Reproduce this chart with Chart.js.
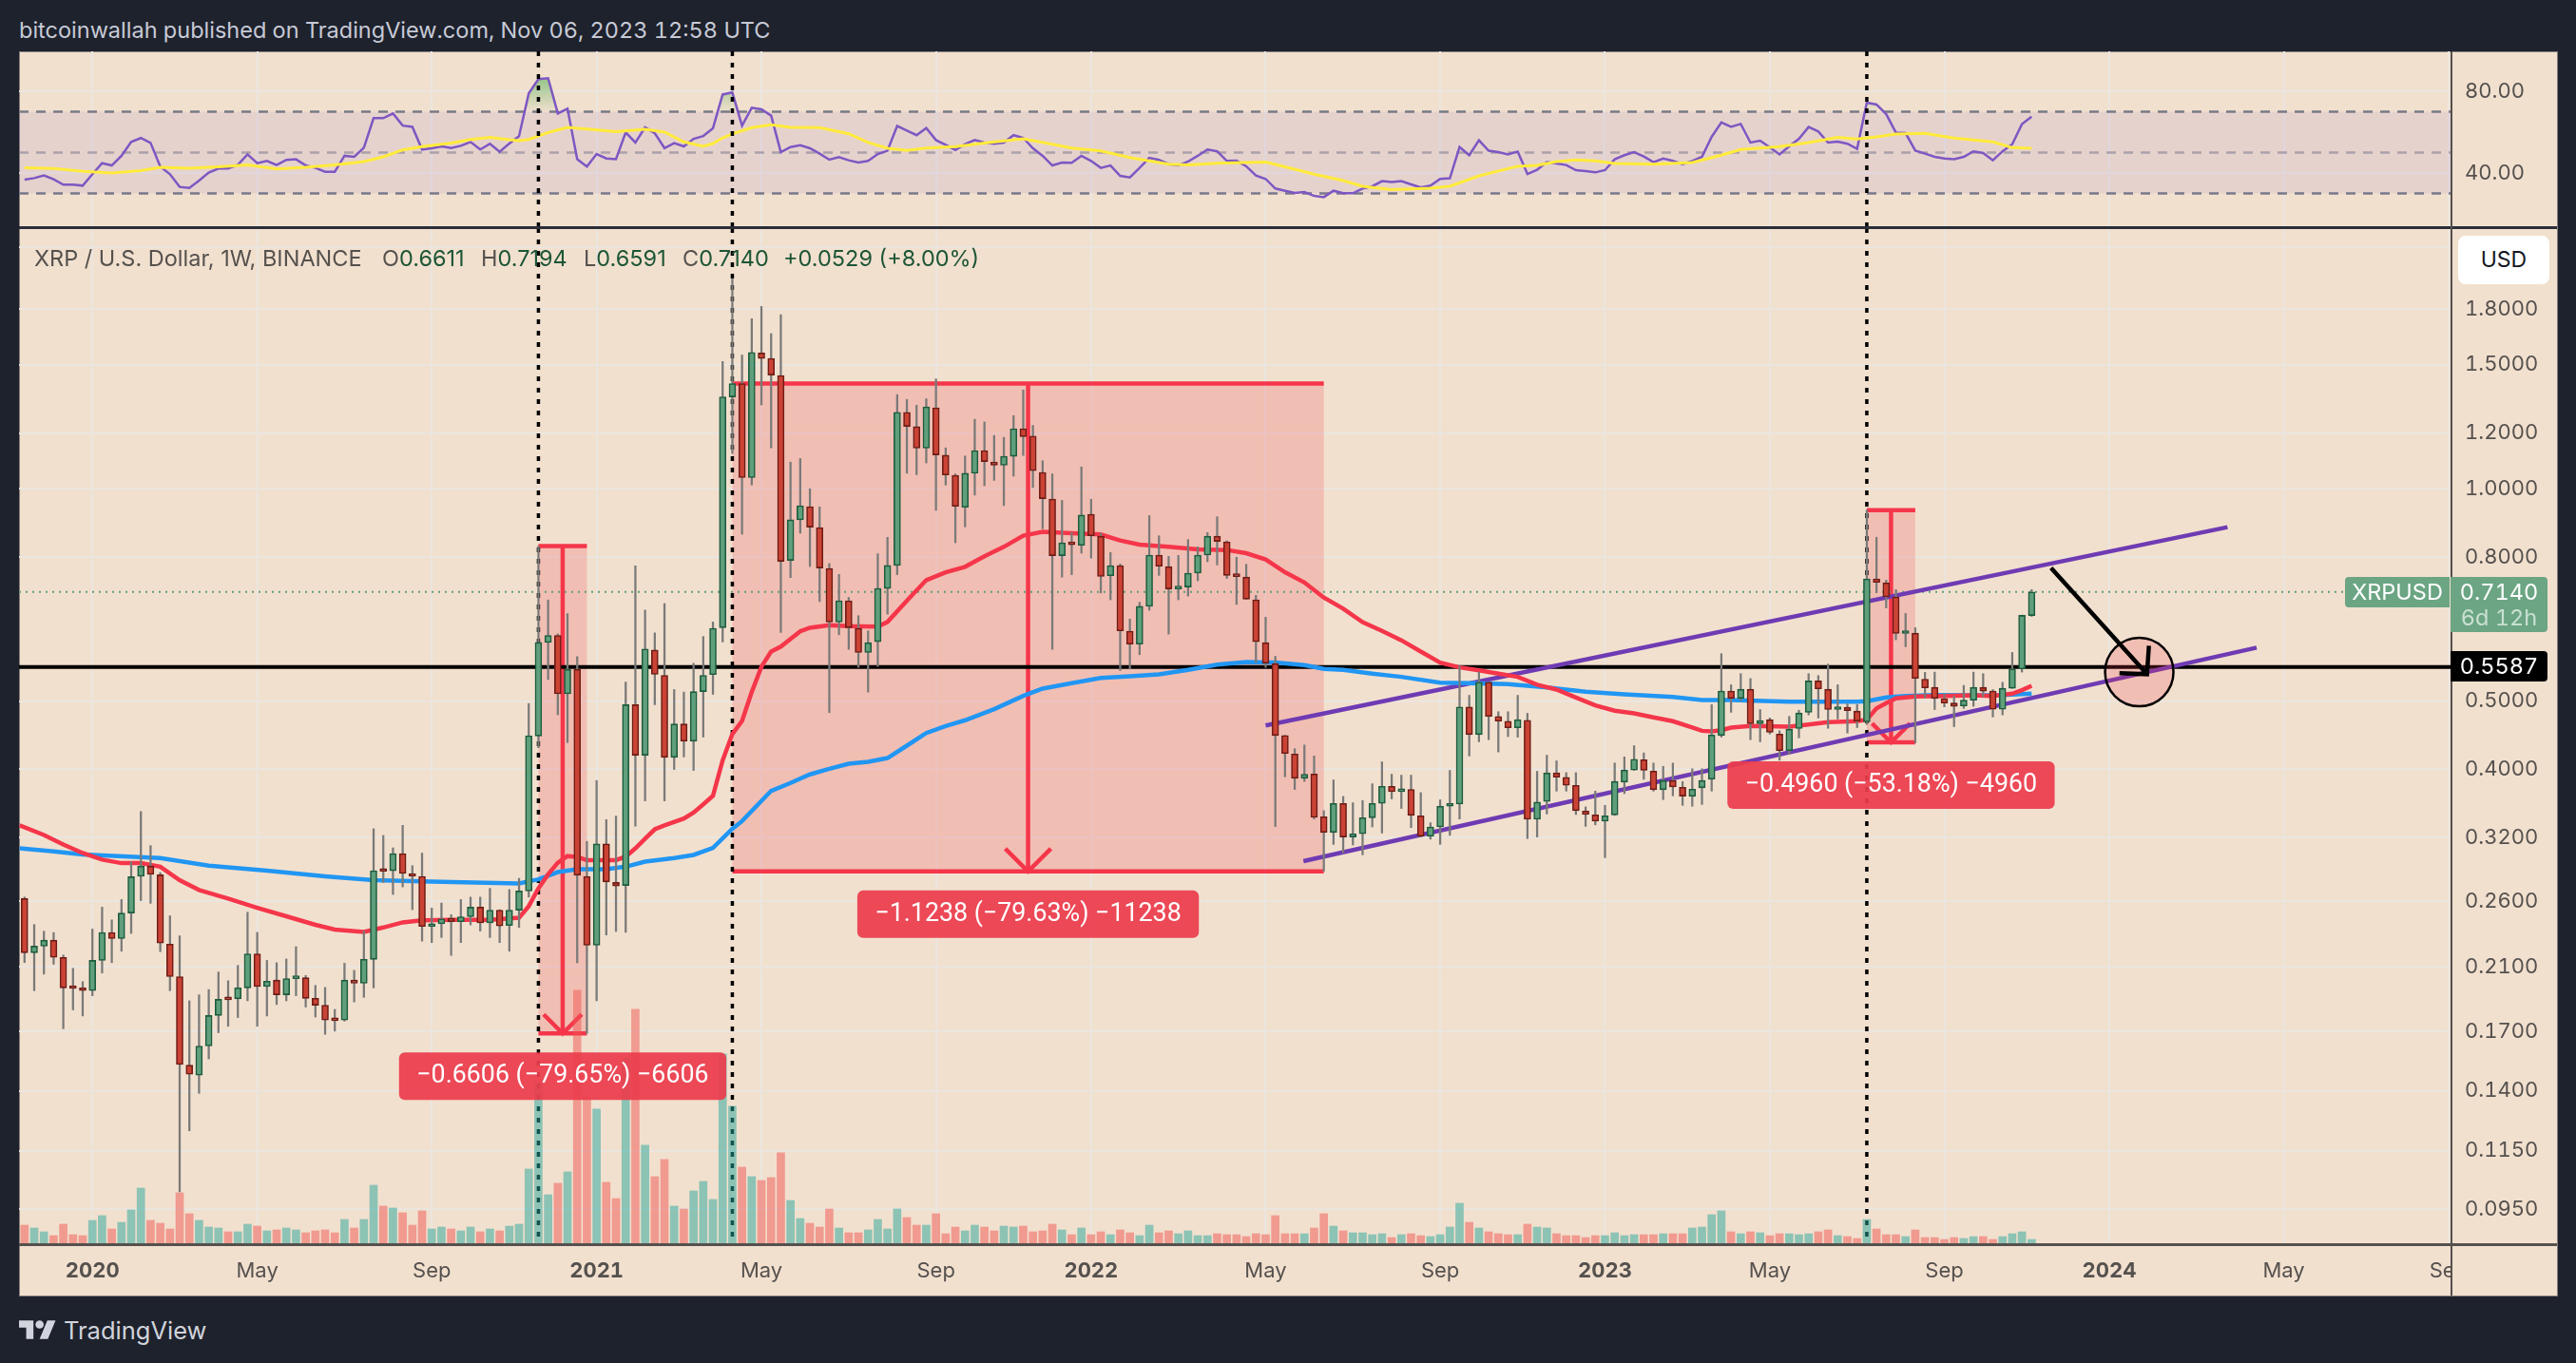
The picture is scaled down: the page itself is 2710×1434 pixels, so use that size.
<!DOCTYPE html>
<html>
<head>
<meta charset="utf-8">
<title>XRP / U.S. Dollar</title>
<script src="https://cdn.jsdelivr.net/npm/chart.js@4"></script>
<style>
    html, body { margin: 0; padding: 0; background: #1e222d; }
    body { position: relative; width: 2710px; height: 1434px; overflow: hidden; font-family: Inter, Roboto, sans-serif; font-variant-numeric: tabular-nums; }
    .abs { position: absolute; white-space: nowrap; }
    canvas { position: absolute; }
    #panel { left: 20px; top: 54px; width: 2669px; height: 1308px; background: #f2e0cf; border: 1px solid #85807c; }
    .legend { top: 257px; line-height: 30px; font-size: 23.5px; color: #55514d; font-variant-numeric: normal; }
    .legend b { font-weight: 400; color: #1d5636; }
    .tag { color: #fff; text-align: center; font-size: 25px; }
</style>
</head>
<body>
<div id="panel" class="abs"></div>
<div class="abs" style="left:20px;top:17px;line-height:30px;font-size:23.5px;color:#c7cad6;">bitcoinwallah published on TradingView.com, Nov 06, 2023 12:58 UTC</div>

<canvas id="rsiChart" width="2670" height="185" style="left:20px;top:54px;"></canvas>
<canvas id="priceChart" width="2670" height="1123" style="left:20px;top:240px;"></canvas>

<!-- pane separators and the corner below the price axis -->
<div class="abs" style="left:2580px;top:1311px;width:109px;height:51px;background:#f2e0cf;"></div>
<div class="abs" style="left:20px;top:238px;width:2670px;height:3px;background:#2a2e39;"></div>
<div class="abs" style="left:20px;top:1308px;width:2670px;height:3px;background:#55514e;"></div>
<div class="abs" style="left:2578px;top:54px;width:2px;height:1309px;background:#55514e;"></div>

<div class="abs legend" style="left:36px;">XRP / U.S. Dollar, 1W, BINANCE</div>
<div class="abs legend" style="left:402px;">O<b>0.6611</b></div>
<div class="abs legend" style="left:506px;">H<b>0.7194</b></div>
<div class="abs legend" style="left:614px;">L<b>0.6591</b></div>
<div class="abs legend" style="left:718px;">C<b>0.7140</b></div>
<div class="abs legend" style="left:824px;"><b>+0.0529 (+8.00%)</b></div>

<div class="abs" style="left:2586px;top:248px;width:96px;height:51px;line-height:51px;background:#fff;border-radius:8px;text-align:center;font-size:23px;color:#131722;">USD</div>
<div class="abs tag" style="left:2467px;top:607px;width:110px;height:32px;line-height:32px;background:#6ba583;border-radius:4px 0 0 4px;font-size:23.5px;">XRPUSD</div>
<div class="abs tag" style="left:2578px;top:607px;width:102px;height:58px;padding-top:2px;box-sizing:border-box;background:#6ba583;border-radius:0 4px 4px 0;font-size:23.5px;line-height:27px;">0.7140<br><span style="color:#c9e0d2;">6d 12h</span></div>
<div class="abs tag" style="left:2578px;top:685px;width:102px;height:32px;line-height:32px;background:#000;border-radius:0 4px 4px 0;font-size:23.5px;">0.5587</div>

<svg class="abs" style="left:20px;top:1388px;" width="39" height="24" viewBox="0 4 36 20"><path fill="#d1d4dc" d="M14 22H7V11H0V4h14v18zM28 22h-8l7.5-18h8L28 22z"/><circle cx="20" cy="8" r="4" fill="#d1d4dc"/></svg>
<div class="abs" style="left:67px;top:1383px;line-height:34px;font-size:25.5px;color:#d1d4dc;">TradingView</div>

<script>
// Weekly XRP candles. Last bar is the week of Nov 06 2023.
const opens = [
    .2622, .2197, .2245, .2289, .2164, .1962, .1959, .1941, .2143, .2348,
    .2301, .2501, .2820, .2916, .2834, .2260, .2032, .1522, .1473, .1620,
    .1790, .1890, .1890, .1959, .2189, .1967, .2009, .1915, .2019, .2025,
    .1893, .1851, .1766, .1763, .2009, .1989, .2150, .2876, .2872, .3037,
    .2838, .2820, .2394, .2414, .2459, .2431, .2471, .2550, .2422, .2525,
    .2402, .2525, .2688, .4459, .6054, .6193, .5119, .5545, .2820, .2252,
    .3135, .2764, .2737, .4940, .4188, .5905, .5436, .4159, .4639, .4384,
    .5156, .5450, .6353, 1.350, 1.410, 1.037, 1.558, 1.531, 1.448, .7913,
    .9036, .9435, .8811, .7710, .6471, .6937, .6339, .5859, .6070, .7222,
    .7784, 1.284, 1.225, 1.142, 1.303, 1.116, 1.045, .9415, 1.052, 1.133,
    1.091, 1.080, 1.112, 1.217, 1.188, 1.055, .9672, .8037, .8369, .8315,
    .9204, .8564, .7529, .7781, .6280, .6020, .6811, .8052, .7755, .7210,
    .7255, .7591, .8052, .8564, .8410, .7529, .7494, .6959, .6050, .5650,
    .4467, .4206, .3884, .3940, .3426, .3254, .3578, .3207, .3240, .3415,
    .3578, .3783, .3718, .3745, .3436, .3214, .3314, .3545, .3571, .4904,
    .4481, .5316, .4754, .4681, .4580, .4695, .3398, .3601, .3953, .3897,
    .3796, .3490, .3447, .3377, .3447, .3836, .3990, .4128, .3977, .3742,
    .3856, .3772, .3662, .3765, .3872, .4467, .5165, .5042, .5195, .4642,
    .4704, .4489, .4251, .4570, .4818, .5339, .5195, .4862, .4898, .4837,
    .4670, .7451, .7356, .7024, .6234, .6240, .5370, .5228, .5038, .4966,
    .4920, .5013, .5228, .5165, .4867, .5212, .5552, .6611
];
const highs = [
    .2636, .2409, .2357, .2347, .2181, .2088, .1999, .2374, .2550, .2446,
    .2614, .2958, .3485, .3118, .2855, .2479, .2321, .1878, .1915, .1948,
    .2063, .2005, .2108, .2508, .2348, .2143, .2127, .2153, .2241, .2040,
    .1975, .1962, .1826, .2123, .2074, .2358, .3294, .3223, .3095, .3331,
    .2920, .3042, .2542, .2584, .2488, .2614, .2635, .2635, .2711, .2529,
    .2701, .2802, .4958, .8294, .6955, .6224, .6652, .5780, .3161, .3856,
    .3394, .3433, .5321, .7775, .6729, .6246, .6874, .5190, .5148, .5656,
    .6172, .6473, 1.516, 1.987, 1.548, 1.743, 1.814, 1.660, 1.766, 1.091,
    1.104, 1.000, .9426, .7834, .7560, .7012, .6607, .6288, .8088, .8535,
    1.360, 1.339, 1.314, 1.342, 1.432, 1.143, 1.050, 1.113, 1.255, 1.244,
    1.190, 1.183, 1.270, 1.381, 1.230, 1.096, 1.050, .9628, .8668, 1.074,
    .9665, .8649, .8121, .7823, .6534, .6903, .9160, .8578, .8020, .8044,
    .8473, .8272, .8668, .9127, .8437, .7994, .7815, .7061, .6574, .5787,
    .4471, .4278, .4331, .4178, .3495, .3864, .3661, .3586, .3612, .3816,
    .4099, .3937, .3924, .3924, .3707, .3359, .3620, .3986, .5610, .5094,
    .5495, .5326, .4828, .4828, .5094, .4803, .3974, .4189, .4112, .3957,
    .3957, .3538, .3725, .3556, .4083, .4166, .4321, .4220, .4083, .4039,
    .4083, .3844, .4007, .4007, .4940, .5836, .5272, .5467, .5381, .4862,
    .4730, .4536, .4754, .4852, .5467, .5433, .5640, .5272, .4955, .4944,
    .9327, .8535, .7421, .7194, .6656, .6353, .5490, .5495, .5121, .5084,
    .5261, .5495, .5467, .5190, .5316, .5859, .6620, .7194
];
const lows = [
    .2128, .1941, .2049, .2116, .1714, .1823, .1787, .1909, .2056, .2127,
    .2208, .2340, .2605, .2582, .2205, .1941, .1006, .1228, .1388, .1553,
    .1692, .1728, .1778, .1878, .1728, .1787, .1855, .1878, .1909, .1840,
    .1781, .1683, .1701, .1757, .1871, .1899, .1959, .2764, .2658, .2724,
    .2529, .2282, .2271, .2309, .2178, .2271, .2406, .2358, .2309, .2271,
    .2208, .2386, .2635, .4292, .5363, .4780, .4364, .2127, .1688, .1878,
    .2328, .2355, .2348, .3322, .3608, .4940, .3608, .3998, .4165, .3985,
    .4443, .5110, .6064, 1.122, .8622, 1.0125, 1.315, 1.143, .6254, .7483,
    .8649, .7757, .6917, .4814, .6208, .5919, .5580, .5148, .5598, .6641,
    .7553, 1.052, 1.047, 1.088, .9320, 1.0125, .8384, .8830, .9795, 1.010,
    1.028, .9465, 1.042, 1.115, 1.004, .8776, .5919, .7494, .7553, .8103,
    .7974, .7115, .6959, .5525, .5552, .5817, .6725, .7536, .6221, .6959,
    .7043, .7405, .7880, .7798, .7461, .6855, .6974, .5668, .5580, .3318,
    .3903, .3745, .3844, .3401, .2867, .3130, .3044, .3124, .3025, .3314,
    .3248, .3631, .3520, .3307, .3207, .3184, .3130, .3224, .3401, .4178,
    .4376, .4407, .4233, .4451, .4443, .3190, .3207, .3457, .3725, .3725,
    .3451, .3320, .3336, .2997, .3441, .3695, .3986, .3872, .3725, .3623,
    .3668, .3556, .3545, .3566, .3725, .4443, .4818, .5006, .4407, .4376,
    .4489, .4121, .4199, .4433, .4778, .4730, .4574, .4715, .4503, .4584,
    .4631, .7120, .6776, .6107, .5970, .4362, .5047, .4862, .4904, .4598,
    .4880, .4914, .5068, .4745, .4778, .5208, .5495, .6591
];
const closes = [
    .2197, .2245, .2289, .2164, .1959, .1955, .1941, .2143, .2348, .2301,
    .2501, .2816, .2916, .2838, .2267, .2032, .1525, .1477, .1620, .1790,
    .1887, .1884, .1959, .2189, .1967, .2002, .1915, .2019, .2025, .1893,
    .1851, .1763, .1760, .2009, .1989, .2150, .2872, .2866, .3037, .2847,
    .2820, .2394, .2410, .2454, .2431, .2471, .2550, .2422, .2525, .2398,
    .2525, .2688, .4465, .6054, .6193, .5119, .5545, .2830, .2252, .3135,
    .2769, .2733, .4940, .4188, .5925, .5455, .4159, .4639, .4384, .5156,
    .5436, .6339, 1.350, 1.410, 1.037, 1.561, 1.531, 1.450, .7889, .9036,
    .9465, .8822, .7719, .6471, .6937, .6353, .5859, .6050, .7222, .7784,
    1.284, 1.226, 1.142, 1.307, 1.117, 1.046, .9444, 1.052, 1.133, 1.093,
    1.080, 1.112, 1.217, 1.186, 1.061, .9684, .8037, .8384, .8330, .9176,
    .8575, .7511, .7781, .6288, .6020, .6811, .8052, .7766, .7210, .7232,
    .7591, .8052, .8564, .8421, .7536, .7508, .6974, .6067, .5656, .4467,
    .4212, .3884, .3936, .3419, .3254, .3578, .3207, .3240, .3415, .3578,
    .3783, .3718, .3745, .3441, .3214, .3314, .3545, .3571, .4904, .4481,
    .5316, .4754, .4681, .4580, .4704, .3398, .3594, .3953, .3897, .3796,
    .3495, .3451, .3377, .3436, .3844, .3990, .4134, .3986, .3742, .3856,
    .3776, .3665, .3749, .3856, .4475, .5165, .5042, .5195, .4642, .4690,
    .4513, .4251, .4560, .4807, .5339, .5202, .4862, .4888, .4843, .4681,
    .7451, .7366, .7024, .6234, .6247, .5381, .5218, .5042, .4966, .4914,
    .5013, .5228, .5165, .4867, .5212, .5552, .6613, .7140
];
const volumes = [
    19, 16, 12, 8, 20, 9, 8, 24, 29, 15,
    22, 35, 58, 24, 21, 15, 53, 31, 24, 17,
    16, 12, 12, 20, 18, 13, 14, 16, 14, 11,
    13, 14, 11, 25, 16, 25, 61, 39, 37, 32,
    19, 34, 15, 17, 15, 13, 17, 12, 15, 13,
    18, 20, 78, 169, 51, 63, 75, 266, 154, 141,
    64, 47, 195, 246, 103, 70, 88, 39, 36, 55,
    65, 46, 199, 144, 80, 70, 66, 69, 95, 45,
    26, 21, 17, 36, 16, 11, 11, 14, 25, 15,
    36, 27, 19, 19, 31, 10, 17, 13, 19, 17,
    13, 18, 17, 18, 12, 13, 20, 14, 9, 16,
    9, 12, 9, 14, 11, 8, 19, 11, 13, 10,
    13, 8, 8, 10, 9, 9, 7, 10, 9, 29,
    10, 10, 10, 16, 31, 18, 13, 11, 11, 9,
    10, 6, 9, 10, 8, 7, 9, 17, 42, 22,
    16, 12, 10, 9, 9, 20, 17, 16, 10, 8,
    8, 6, 8, 8, 11, 8, 9, 9, 9, 10,
    10, 10, 16, 17, 30, 34, 12, 10, 12, 11,
    8, 10, 10, 9, 10, 12, 14, 8, 7, 5,
    25, 15, 9, 9, 7, 14, 6, 6, 4, 6,
    5, 7, 7, 4, 7, 10, 12, 4
];
const rsiValues = [
    36.7, 37.5, 38.8, 36.9, 34.3, 34.3, 33.8, 39.4, 44.8, 43.7,
    48.4, 55.2, 57.1, 54.7, 43.2, 39.4, 33.2, 32.7, 36.3, 40.2,
    42.2, 42.2, 44.0, 49.1, 44.8, 45.9, 43.9, 46.4, 46.7, 43.7,
    42.5, 40.6, 40.6, 48.4, 47.9, 52.4, 66.8, 66.8, 69.1, 63.2,
    62.6, 51.5, 52.1, 53.0, 52.2, 53.3, 55.2, 51.5, 54.3, 50.4,
    54.4, 58.0, 78.9, 85.9, 86.4, 69.1, 71.5, 46.7, 43.1, 49.3,
    47.1, 46.8, 59.8, 54.9, 62.3, 59.5, 52.2, 54.6, 53.0, 56.7,
    58.1, 61.9, 78.4, 79.4, 63.1, 71.9, 71.2, 68.1, 50.2, 52.7,
    53.6, 52.1, 49.5, 46.5, 47.8, 46.2, 45.1, 45.9, 49.3, 50.9,
    63.0, 60.8, 58.5, 62.0, 56.1, 53.8, 51.3, 54.1, 56.1, 54.9,
    54.3, 54.9, 58.5, 57.2, 52.1, 48.4, 43.7, 45.1, 45.0, 48.4,
    45.9, 42.5, 43.7, 38.6, 37.8, 42.5, 47.4, 46.4, 44.3, 43.7,
    45.6, 48.4, 51.5, 50.6, 45.9, 46.0, 43.3, 38.8, 37.1, 32.4,
    31.3, 30.2, 30.7, 28.8, 28.2, 31.3, 30.1, 30.1, 32.4, 33.5,
    36.0, 35.6, 36.0, 34.4, 32.9, 33.8, 37.1, 37.4, 52.7, 48.7,
    56.0, 50.9, 50.2, 49.1, 50.5, 39.5, 41.6, 45.3, 44.7, 43.9,
    41.4, 40.9, 40.3, 41.4, 46.7, 48.7, 50.2, 48.1, 45.3, 47.1,
    45.9, 44.3, 45.9, 47.9, 57.7, 64.7, 62.6, 64.0, 54.9, 55.8,
    52.6, 49.1, 53.0, 56.7, 62.5, 60.3, 54.9, 55.3, 54.3, 51.8,
    74.4, 73.5, 68.8, 59.8, 59.5, 51.0, 49.5, 47.9, 47.1, 46.8,
    47.9, 50.6, 49.8, 46.2, 50.6, 54.1, 63.9, 67.6
];

// Moving averages at these bar numbers.
const ma50Bars = [
    -0.5, 2, 4, 6, 8, 10, 12, 14, 16, 18, 21, 24, 27, 30, 32, 35, 37, 39, 41, 44, 48, 51, 52, 53, 54, 55, 56, 57, 58, 60, 61, 62, 63, 64, 65, 66, 68, 69, 70, 71,
    72, 73, 74, 75, 76, 77, 78, 79, 80, 81, 83, 85, 88, 89, 91, 93, 95, 97, 99, 101, 103, 105, 108, 111, 113, 115, 118, 121, 124, 126, 128, 130, 132, 134, 136, 138, 140, 142, 144, 146,
    148, 150, 152, 154, 156, 158, 160, 162, 164, 166, 168, 170, 172, 173, 174, 175, 176, 178, 182, 184, 186, 189, 190, 191, 192, 193, 195, 198, 201, 203, 205, 206, 207
];
const ma50Values = [
    .3331, .3228, .3129, .3043, .2978, .2944, .2944, .2910, .2784, .2697, .2622, .2545, .2475, .2407, .2370, .2352, .2386, .2426, .2442, .2446, .2446, .2463, .2558, .2711, .2838, .2948, .3013, .3004, .2973, .2973, .2973, .3008, .3090, .3188, .3288, .3331, .3406, .3473, .3567, .3668,
    .4118, .4488, .4685, .5148, .5593, .5875, .5973, .6125, .6278, .6351, .6406, .6387, .6373, .6473, .6937, .7421, .7614, .7751, .8020, .8272, .8578, .8687, .8649, .8614, .8447, .8331, .8272, .8204, .8188, .8103, .7940, .7614, .7363, .7010, .6761, .6470, .6288, .6096, .5877, .5668,
    .5580, .5525, .5467, .5410, .5272, .5190, .5058, .4929, .4843, .4803, .4740, .4681, .4584, .4536, .4526, .4545, .4584, .4608, .4598, .4631, .4666, .4681, .4704, .4880, .4966, .5042, .5074, .5084, .5094, .5084, .5121, .5180, .5256
];
const ma200Bars = [
    -0.5, 3, 6, 14, 19, 25, 31, 36, 43, 51, 53, 55, 57, 60, 62, 64, 67, 69, 71, 73, 74, 77, 79, 81, 83, 85, 87, 89, 91, 93, 95, 97, 100, 103, 105, 108, 111, 114, 117, 120,
    123, 126, 129, 132, 134, 136, 139, 142, 146, 149, 153, 157, 161, 165, 170, 173, 176, 182, 186, 189, 190, 192, 194, 197, 201, 204, 207
];
const ma200Values = [
    .3090, .3060, .3028, .2994, .2920, .2872, .2820, .2784, .2769, .2755, .2792, .2859, .2886, .2886, .2910, .2958, .2994, .3024, .3095, .3294, .3377, .3728, .3825, .3934, .4006, .4074, .4099, .4150, .4321, .4503, .4608, .4695, .4869, .5084, .5206, .5300, .5392, .5421, .5455, .5535,
    .5632, .5680, .5668, .5622, .5552, .5535, .5467, .5410, .5310, .5300, .5283, .5228, .5154, .5110, .5068, .5016, .5016, .4990, .4990, .4990, .4996, .5058, .5084, .5100, .5094, .5100, .5121
];
const rsiMaBars = [
    0, 3, 6, 9, 12, 14, 17, 20, 23, 26, 29, 32, 35, 37, 39, 41, 44, 46, 48, 50, 51, 52, 54, 56, 58, 61, 64, 66, 68, 70, 71, 72, 73, 75, 77, 79, 82, 85, 87, 89,
    91, 93, 96, 99, 103, 106, 108, 111, 114, 118, 120, 123, 126, 128, 130, 133, 136, 138, 141, 145, 147, 150, 154, 156, 158, 160, 162, 164, 168, 172, 175, 177, 181, 184, 187, 189, 191, 193, 196, 199, 203, 205, 207
];
const rsiMaValues = [
    42.6, 42.2, 40.8, 40.0, 41.2, 42.8, 42.3, 43.0, 44.0, 42.0, 42.8, 44.0, 45.6, 47.9, 51.3, 52.9, 54.7, 56.4, 57.4, 56.3, 55.8, 56.4, 59.8, 62.3, 61.5, 60.2, 61.4, 60.0, 55.2, 53.0, 54.4, 57.2, 59.1, 62.2, 63.6, 62.3, 62.2, 59.2, 54.9, 52.1,
    51.0, 52.2, 52.9, 54.6, 56.7, 54.1, 52.2, 50.8, 47.6, 44.3, 44.0, 44.8, 45.1, 45.3, 43.0, 39.4, 36.3, 33.5, 31.9, 32.6, 33.5, 38.6, 43.3, 43.7, 45.6, 46.4, 45.9, 44.6, 44.3, 45.1, 48.7, 51.5, 52.9, 54.9, 57.4, 56.6, 57.7, 59.1, 59.4, 57.1, 55.2, 52.4, 52.1
];

// Axes
const xTickBars = [7, 24, 42, 59, 76, 94, 110, 128, 146, 163, 180, 198, 215, 233, 250];
const xTickLabels = ['2020', 'May', 'Sep', '2021', 'May', 'Sep', '2022', 'May', 'Sep', '2023', 'May', 'Sep', '2024', 'May', 'Sep'];
const priceTicks = [2.2, 1.8, 1.5, 1.2, 1.0, 0.8, 0.5, 0.4, 0.32, 0.26, 0.21, 0.17, 0.14, 0.115, 0.095];
const priceLabelTicks = [1.8, 1.5, 1.2, 1.0, 0.8, 0.5, 0.4, 0.32, 0.26, 0.21, 0.17, 0.14, 0.115, 0.095];
const rsiTicks = [80, 40];

// Drawings on the chart, in bar numbers and prices
const eventBars = [53, 73, 190];
const supportLevel = [0.5587];
const lastPrice = [0.7140];
const upperTrendBars = [128, 227.2];
const upperTrendPrices = [0.4617, 0.8822];
const lowerTrendBars = [131.9, 230.2];
const lowerTrendPrices = [0.2963, 0.5951];
const measureLeft = [53, 73, 190];
const measureRight = [58, 134, 195];
const measureTop = [0.8294, 1.4103, 0.9327];
const measureBottom = [0.1688, 0.2865, 0.4367];
const measureText = ['\u22120.6606 (\u221279.65%) \u22126606', '\u22121.1238 (\u221279.63%) \u221211238', '\u22120.4960 (\u221253.18%) \u22124960'];
const arrowBars = [209, 218.9];
const arrowPrices = [0.7724, 0.5457];
const targetBar = [218.1];
const targetPrice = [0.5495];

const xMin = -0.569;
const xMax = 250.3;
const green = '#5f9f7c';
const greenEdge = '#1d5c3e';
const red = '#cb4335';
const redEdge = '#6e1c15';
const gridColor = '#ebe5df';
const tickColor = '#55514e';
const measureRed = '#f5364a';

const isUp = closes.map((close, i) => close >= opens[i]);

function dottedLines(chart) {
    const { ctx, chartArea, scales } = chart;
    ctx.save();
    ctx.strokeStyle = '#000';
    ctx.lineWidth = 3.5;
    ctx.setLineDash([5, 7]);
    eventBars.forEach(bar => {
        const px = scales.x.getPixelForValue(bar);
        ctx.beginPath();
        ctx.moveTo(px, chartArea.top);
        ctx.lineTo(px, chartArea.bottom);
        ctx.stroke();
    });
    ctx.restore();
}

function drawMeasure(chart, i) {
    const { ctx, scales } = chart;
    const left = scales.x.getPixelForValue(measureLeft[i]);
    const right = scales.x.getPixelForValue(measureRight[i]);
    const top = scales.y.getPixelForValue(measureTop[i]);
    const bottom = scales.y.getPixelForValue(measureBottom[i]);
    const mid = (left + right) / 2;
    const head = i === 1 ? 24 : 20;

    ctx.fillStyle = 'rgba(242, 54, 69, 0.2)';
    ctx.fillRect(left, top, right - left, bottom - top);
    ctx.strokeStyle = measureRed;
    ctx.lineWidth = 4.5;
    ctx.beginPath();
    ctx.moveTo(left, top);
    ctx.lineTo(right, top);
    ctx.moveTo(left, bottom);
    ctx.lineTo(right, bottom);
    ctx.moveTo(mid, top);
    ctx.lineTo(mid, bottom);
    ctx.moveTo(mid - head, bottom - head);
    ctx.lineTo(mid, bottom);
    ctx.lineTo(mid + head, bottom - head);
    ctx.stroke();
}

function drawMeasureLabel(chart, i) {
    const { ctx, scales } = chart;
    const left = scales.x.getPixelForValue(measureLeft[i]);
    const right = scales.x.getPixelForValue(measureRight[i]);
    const bottom = scales.y.getPixelForValue(measureBottom[i]);
    const mid = (left + right) / 2;

    // Roboto digits are all one width, like the picture's label text
    ctx.font = '26.8px Roboto, Inter, sans-serif';
    const width = ctx.measureText(measureText[i]).width + 37;
    ctx.fillStyle = 'rgba(236, 60, 76, 0.93)';
    ctx.beginPath();
    ctx.roundRect(mid - width / 2, bottom + 20, width, 50, 6);
    ctx.fill();
    ctx.fillStyle = '#fff';
    ctx.textAlign = 'center';
    ctx.textBaseline = 'middle';
    ctx.fillText(measureText[i], mid, bottom + 45);
}

function drawTarget(chart) {
    const { ctx, scales } = chart;
    const cx = scales.x.getPixelForValue(targetBar[0]);
    const cy = scales.y.getPixelForValue(targetPrice[0]);
    ctx.fillStyle = 'rgba(242, 54, 69, 0.2)';
    ctx.strokeStyle = '#000';
    ctx.lineWidth = 2.5;
    ctx.beginPath();
    ctx.arc(cx, cy, 36, 0, Math.PI * 2);
    ctx.fill();
    ctx.stroke();

    const x1 = scales.x.getPixelForValue(arrowBars[0]);
    const y1 = scales.y.getPixelForValue(arrowPrices[0]);
    const x2 = scales.x.getPixelForValue(arrowBars[1]);
    const y2 = scales.y.getPixelForValue(arrowPrices[1]);
    ctx.lineWidth = 4.5;
    ctx.beginPath();
    ctx.moveTo(x1, y1);
    ctx.lineTo(x2, y2);
    ctx.moveTo(x2 - 29, y2 - 1);
    ctx.lineTo(x2, y2);
    ctx.lineTo(x2 + 2, y2 - 30);
    ctx.stroke();
}

const priceDrawings = {
    id: 'priceDrawings',
    beforeDatasetsDraw(chart) {
        const ctx = chart.ctx;
        ctx.save();
        measureText.forEach((text, i) => drawMeasure(chart, i));
        ctx.restore();
        dottedLines(chart);
    },
    afterDatasetsDraw(chart) {
        const ctx = chart.ctx;
        ctx.save();
        measureText.forEach((text, i) => drawMeasureLabel(chart, i));
        drawTarget(chart);
        ctx.restore();
    }
};

const rsiDrawings = {
    id: 'rsiDrawings',
    afterDatasetsDraw(chart) {
        dottedLines(chart);
    }
};

function flatLine(value) {
    return [{ x: xMin, y: value }, { x: xMax, y: value }];
}

function pairs(bars, values) {
    return bars.map((bar, i) => ({ x: bar, y: values[i] }));
}

function sharedXAxis(showLabels) {
    return {
        type: 'linear',
        min: xMin,
        max: xMax,
        offset: false,
        grid: { color: gridColor, lineWidth: 2, drawTicks: false, offset: false },
        border: { display: false },
        afterBuildTicks: scale => {
            scale.ticks = xTickBars.map(value => ({ value }));
        },
        afterFit: scale => {
            scale.height = showLabels ? 53 : 0;
            scale.paddingLeft = 0;
            scale.paddingRight = 0;
        },
        ticks: {
            display: showLabels,
            autoSkip: false,
            maxRotation: 0,
            padding: 14,
            color: tickColor,
            font: ctx => ({
                family: 'Inter, Roboto, sans-serif',
                size: 22,
                weight: ctx.tick && /^\d/.test(xTickLabels[xTickBars.indexOf(ctx.tick.value)]) ? '700' : '400'
            }),
            callback: value => xTickLabels[xTickBars.indexOf(value)]
        }
    };
}

// RSI pane
const rsiCanvas = document.getElementById('rsiChart');
const overbought = rsiCanvas.getContext('2d').createLinearGradient(0, 29, 0, 64);
overbought.addColorStop(0, 'rgba(76, 175, 80, 0.55)');
overbought.addColorStop(1, 'rgba(76, 175, 80, 0)');

const rsiConfig = {
    type: 'line',
    data: {
        datasets: [
            {
                data: pairs(rsiValues.map((v, i) => i), rsiValues),
                borderColor: '#7e57c2',
                borderWidth: 2.5,
                pointRadius: 0,
                fill: { target: { value: 70 }, above: overbought, below: 'rgba(0, 0, 0, 0)' },
                order: 1
            },
            {
                data: pairs(rsiMaBars, rsiMaValues),
                borderColor: '#ffeb3b',
                borderWidth: 3,
                pointRadius: 0,
                order: 0
            },
            {
                data: flatLine(70),
                borderColor: '#787b86',
                borderWidth: 2.5,
                borderDash: [10, 8],
                pointRadius: 0,
                fill: '+1',
                backgroundColor: 'rgba(126, 87, 194, 0.1)',
                order: 3
            },
            {
                data: flatLine(30),
                borderColor: '#787b86',
                borderWidth: 2.5,
                borderDash: [10, 8],
                pointRadius: 0,
                order: 3
            },
            {
                data: flatLine(50),
                borderColor: 'rgba(120, 123, 134, 0.55)',
                borderWidth: 2.5,
                borderDash: [10, 8],
                pointRadius: 0,
                order: 3
            }
        ]
    },
    options: {
        responsive: false,
        animation: false,
        layout: { padding: 0 },
        plugins: { legend: { display: false }, tooltip: { enabled: false } },
        scales: {
            x: sharedXAxis(false),
            y: {
                position: 'right',
                min: 13.49,
                max: 99.53,
                grid: { color: gridColor, lineWidth: 2, drawTicks: false },
                border: { display: false },
                afterBuildTicks: scale => {
                    scale.ticks = rsiTicks.map(value => ({ value }));
                },
                afterFit: scale => {
                    scale.width = 111;
                    scale.paddingTop = 0;
                    scale.paddingBottom = 0;
                },
                ticks: {
                    padding: 14,
                    color: tickColor,
                    font: { family: 'Inter, Roboto, sans-serif', size: 22 },
                    callback: value => value.toFixed(2)
                }
            }
        }
    },
    plugins: [rsiDrawings]
};

new Chart(rsiCanvas, rsiConfig);

// Price pane: log price axis with the volume bars on a hidden axis at the bottom
const priceConfig = {
    type: 'bar',
    data: {
        datasets: [
            {
                data: volumes.map((v, i) => ({ x: i, y: v })),
                yAxisID: 'volume',
                grouped: false,
                barThickness: 8,
                backgroundColor: isUp.map(up => up ? 'rgba(38, 166, 154, 0.5)' : 'rgba(239, 83, 80, 0.5)'),
                order: 7
            },
            {
                type: 'line',
                data: flatLine(lastPrice[0]),
                borderColor: '#5f9f7c',
                borderWidth: 2,
                borderDash: [2, 5],
                pointRadius: 0,
                order: 6
            },
            {
                type: 'line',
                data: pairs(upperTrendBars, upperTrendPrices),
                borderColor: '#6f3bb3',
                borderWidth: 4.5,
                pointRadius: 0,
                order: 5
            },
            {
                type: 'line',
                data: pairs(lowerTrendBars, lowerTrendPrices),
                borderColor: '#6f3bb3',
                borderWidth: 4.5,
                pointRadius: 0,
                order: 5
            },
            {
                type: 'line',
                data: flatLine(supportLevel[0]),
                borderColor: '#000',
                borderWidth: 4,
                pointRadius: 0,
                order: 5
            },
            {
                type: 'line',
                data: pairs(ma200Bars, ma200Values),
                borderColor: '#2196f3',
                borderWidth: 4.5,
                pointRadius: 0,
                order: 4
            },
            {
                type: 'line',
                data: pairs(ma50Bars, ma50Values),
                borderColor: '#f5364a',
                borderWidth: 4.5,
                pointRadius: 0,
                order: 3
            },
            {
                data: highs.map((high, i) => ({ x: i, y: [lows[i], high] })),
                grouped: false,
                barThickness: 1.6,
                backgroundColor: '#7a7a78',
                order: 2
            },
            {
                data: opens.map((open, i) => ({ x: i, y: [open, closes[i]] })),
                grouped: false,
                barThickness: 7,
                minBarLength: 3,
                backgroundColor: isUp.map(up => up ? green : red),
                borderColor: isUp.map(up => up ? greenEdge : redEdge),
                borderWidth: 1.6,
                borderSkipped: false,
                order: 1
            }
        ]
    },
    options: {
        responsive: false,
        animation: false,
        layout: { padding: 0 },
        plugins: { legend: { display: false }, tooltip: { enabled: false } },
        scales: {
            x: sharedXAxis(true),
            y: {
                type: 'logarithmic',
                position: 'right',
                min: 0.08454,
                max: 2.343,
                beginAtZero: false,
                grid: { color: gridColor, lineWidth: 2, drawTicks: false },
                border: { display: false },
                afterBuildTicks: scale => {
                    scale.ticks = priceTicks.map(value => ({ value }));
                },
                afterFit: scale => {
                    scale.width = 111;
                    scale.paddingTop = 0;
                    scale.paddingBottom = 0;
                },
                ticks: {
                    autoSkip: false,
                    padding: 14,
                    color: tickColor,
                    font: { family: 'Inter, Roboto, sans-serif', size: 22 },
                    callback: value => priceLabelTicks.includes(value) ? value.toFixed(4) : ''
                }
            },
            volume: {
                type: 'linear',
                display: false,
                min: -2,
                max: 1067
            }
        }
    },
    plugins: [priceDrawings]
};

new Chart(document.getElementById('priceChart'), priceConfig);
</script>
</body>
</html>
